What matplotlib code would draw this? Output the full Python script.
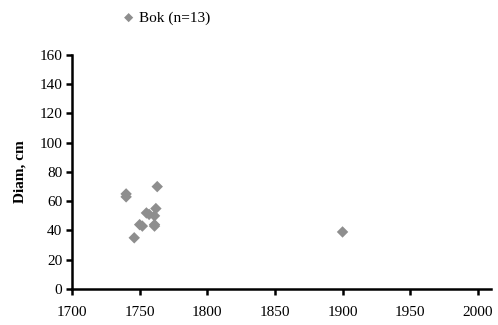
import matplotlib
matplotlib.use('Agg')
import matplotlib.pyplot as plt

plt.rcParams['font.family'] = ['Liberation Serif', 'DejaVu Serif']

# year of planting vs. trunk diameter
years = [1740, 1740, 1763, 1755, 1757, 1762, 1761, 1761, 1750, 1761, 1746, 1752, 1900]
diam = [65, 63, 70, 52, 51, 55, 50, 44, 44, 43, 35, 43, 39]

x_ticks = [1700, 1750, 1800, 1850, 1900, 1950, 2000]
y_ticks = [0, 20, 40, 60, 80, 100, 120, 140, 160]

fig = plt.figure(figsize=(4.98, 3.25), dpi=100)
ax = fig.add_axes([0.1446, 0.1108, 0.842, 0.72])

ax.scatter(years, diam, marker='D', s=34, color='#8e8e8e', edgecolors='none',
           label='Bok (n=13)', zorder=3)

ax.set_xlim(1700, 2010)
ax.set_ylim(0, 160)
ax.set_xticks(x_ticks)
ax.set_yticks(y_ticks)
ax.spines['top'].set_visible(False)
ax.spines['right'].set_visible(False)
for s in ('left', 'bottom'):
    ax.spines[s].set_linewidth(1.8)
ax.tick_params(direction='out', length=4, width=1.8, labelsize=11, pad=3)
ax.tick_params(axis='x', pad=8.5)
ax.set_ylabel('Diam, cm', fontsize=11, fontweight='bold', labelpad=9)

ax.legend(loc='center left', bbox_to_anchor=(0.243, 0.945),
          bbox_transform=fig.transFigure, frameon=False, fontsize=11,
          handlelength=1.0, handletextpad=0.16, borderpad=0, borderaxespad=0,
          markerscale=0.8)

fig.savefig('out.png', dpi=100)
